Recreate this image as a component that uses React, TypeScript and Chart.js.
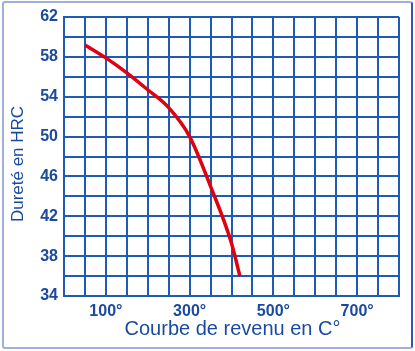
import React, { useEffect, useRef } from "react";
import { Chart, registerables } from "chart.js";

Chart.register(...registerables);

const temperatures = [50, 100, 150, 200, 250, 300, 350, 400, 420];
const hardness = [59.2, 57.9, 56.4, 54.7, 52.9, 50.0, 45.0, 39.3, 36.0];
const xLabelValues = [100, 300, 500, 700];
const yLabelValues = [34, 38, 42, 46, 50, 54, 58, 62];
const xTitle = "Courbe de revenu en C°";
const yTitle = "Dureté en HRC";

const GRID = "#1d5cb5";
const TEXT = "#1a4aa0";
const FONT = "Liberation Sans, Arial, sans-serif";

const titlesPlugin = {
  id: "titles",
  afterDraw(chart: any) {
    const ctx = chart.ctx;
    const area = chart.chartArea;
    ctx.save();
    ctx.fillStyle = TEXT;
    ctx.textAlign = "center";
    ctx.textBaseline = "middle";
    ctx.font = `20px ${FONT}`;
    ctx.fillText(xTitle, (area.left + area.right) / 2 + 1, 329);
    ctx.translate(18, 164);
    ctx.rotate(-Math.PI / 2);
    ctx.font = `17px ${FONT}`;
    ctx.fillText(yTitle, 0, 0);
    ctx.restore();
  },
};

export default function App() {
  const ref = useRef<HTMLCanvasElement | null>(null);

  useEffect(() => {
    const canvas = ref.current;
    if (!canvas) return;
    const chart = new Chart(canvas, {
      type: "line",
      data: {
        datasets: [
          {
            data: temperatures.map((t, i) => ({ x: t, y: hardness[i] })),
            borderColor: "#e00010",
            borderWidth: 3.5,
            pointRadius: 0,
            tension: 0.4,
            cubicInterpolationMode: "monotone",
            fill: false,
          },
        ],
      },
      options: {
        responsive: false,
        animation: false,
        maintainAspectRatio: false,
        layout: { padding: { left: 0, right: 16, top: 17, bottom: 0 } },
        plugins: { legend: { display: false }, tooltip: { enabled: false } },
        scales: {
          x: {
            type: "linear",
            min: 0,
            max: 800,
            afterFit: (s: any) => {
              s.height = 55;
            },
            grid: { color: GRID, lineWidth: 2, drawTicks: false },
            border: { color: GRID, width: 2 },
            ticks: {
              stepSize: 50,
              autoSkip: false,
              maxRotation: 0,
              padding: 6,
              color: TEXT,
              font: { family: FONT, size: 16, weight: "bold" },
              callback: (v: any) => (xLabelValues.includes(Number(v)) ? v + "°" : ""),
            },
          },
          y: {
            type: "linear",
            min: 34,
            max: 62,
            afterFit: (s: any) => {
              s.width = 64;
            },
            grid: { color: GRID, lineWidth: 2, drawTicks: false },
            border: { color: GRID, width: 2 },
            ticks: {
              stepSize: 2,
              autoSkip: false,
              padding: 6,
              color: TEXT,
              font: { family: FONT, size: 16, weight: "bold" },
              callback: (v: any) => (yLabelValues.includes(Number(v)) ? String(v) : ""),
            },
          },
        },
      },
      plugins: [titlesPlugin],
    } as any);
    return () => chart.destroy();
  }, []);

  return (
    <div style={{ position: "fixed", left: 0, top: 0, width: 415, height: 351, background: "#fff" }}>
      <canvas ref={ref} width={415} height={351} style={{ display: "block", width: 415, height: 351 }} />
      <div
        style={{
          position: "absolute",
          left: 2,
          top: 1,
          width: 411,
          height: 348,
          boxSizing: "border-box",
          border: "2px solid #9fb0dc",
          borderRight: "2px solid #3355b0",
          borderRadius: 3,
          pointerEvents: "none",
        }}
      />
    </div>
  );
}
